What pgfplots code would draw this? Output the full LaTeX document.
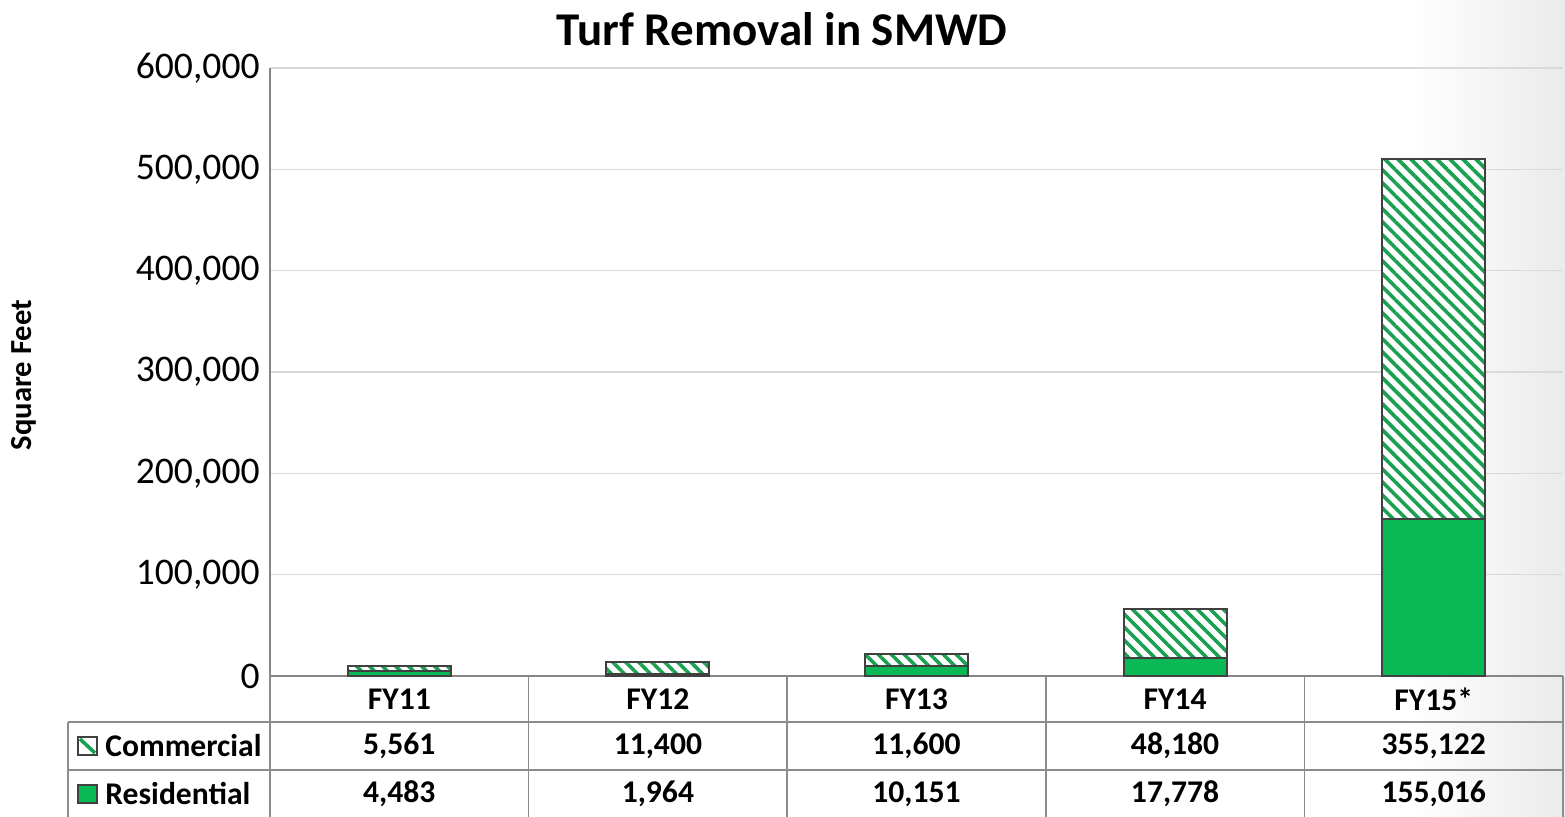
\documentclass[border=0pt]{standalone}
\usepackage{pgfplots}
\pgfplotsset{compat=1.18}
\usepackage{fontspec}
\setmainfont{Carlito}
\usetikzlibrary{patterns.meta}
\definecolor{grn}{RGB}{10,185,85}
\definecolor{hatch}{RGB}{25,160,80}
\definecolor{barline}{RGB}{64,64,64}
\definecolor{gridc}{RGB}{217,217,217}
\definecolor{axc}{RGB}{134,134,134}
\definecolor{tabc}{RGB}{140,140,140}
\begin{document}
\begin{tikzpicture}
\path[use as bounding box] (-135pt,-70.5pt) rectangle (647.5pt,338pt);
\shade[left color=white,right color=black!8] (570pt,-70.5pt) rectangle (647.5pt,338pt);
\begin{axis}[
  at={(0,0)}, anchor=south west,
  scale only axis, width=646.5pt, height=304pt,
  xmin=-0.5, xmax=4.5, ymin=0, ymax=600000,
  ybar stacked, bar width=51.5pt,
  xtick=\empty,
  ytick={0,100000,200000,300000,400000,500000,600000},
  scaled y ticks=false,
  yticklabel style={/pgf/number format/fixed, /pgf/number format/1000 sep={,}, /pgf/number format/assume math mode=true,
     font=\fontsize{18.8}{20}\selectfont, anchor=east, inner sep=0pt, xshift=-5pt},
  axis y line*=left, axis x line*=bottom,
  axis line style={axc, line width=0.75pt},
  ymajorgrids, grid style={gridc, line width=0.75pt},
  major tick length=0pt,
  clip=false,
]
\addplot[fill=grn, draw=barline, line width=1pt] coordinates {(0,4483) (1,1964) (2,10151) (3,17778) (4,155016)};
\addplot[draw=barline, line width=1pt, preaction={fill=white}, pattern={Lines[angle=-45,distance=4.6pt,line width=1.8pt]}, pattern color=hatch] coordinates {(0,5561) (1,11400) (2,11600) (3,48180) (4,355122)};
\end{axis}
% title and y label
\node[font=\fontsize{23.5}{26}\bfseries] at (256pt,323.5pt) {Turf Removal in SMWD};
\node[font=\fontsize{15.3}{17}\bfseries, rotate=90] at (-123pt,150.5pt) {Square Feet};
% data table lines
\begin{scope}[tabc, line width=0.75pt]
\draw (-101pt,-23pt) -- (646.5pt,-23pt);
\draw (-101pt,-47pt) -- (646.5pt,-47pt);
\draw (-101pt,-23pt) -- (-101pt,-70.5pt);
\foreach \xx in {0,129.3,258.6,387.9,517.2,646.5} {\draw (\xx pt,0pt) -- (\xx pt,-70.5pt);}
\end{scope}
\begin{scope}[font=\fontsize{15.8}{17}\bfseries]
\node at (64.65pt,-11.5pt) {FY11};
\node at (193.95pt,-11.5pt) {FY12};
\node at (323.25pt,-11.5pt) {FY13};
\node at (452.55pt,-11.5pt) {FY14};
\node at (581.85pt,-11.5pt) {FY15*};
\node at (64.65pt,-35pt) {5,561};
\node at (193.95pt,-35pt) {11,400};
\node at (323.25pt,-35pt) {11,600};
\node at (452.55pt,-35pt) {48,180};
\node at (581.85pt,-35pt) {355,122};
\node at (64.65pt,-59pt) {4,483};
\node at (193.95pt,-59pt) {1,964};
\node at (323.25pt,-59pt) {10,151};
\node at (452.55pt,-59pt) {17,778};
\node at (581.85pt,-59pt) {155,016};
\node[anchor=west, inner sep=0pt] at (-82.5pt,-35pt) {Commercial};
\node[anchor=west, inner sep=0pt] at (-82.5pt,-59pt) {Residential};
\end{scope}
% legend keys
\filldraw[draw=barline, line width=0.6pt, fill=white] (-96pt,-39.5pt) rectangle (-86.5pt,-30.5pt);
\draw[hatch, line width=1.8pt] (-95pt,-31.5pt) -- (-87.5pt,-38.5pt);
\filldraw[draw=barline, line width=0.6pt, fill=grn] (-96pt,-63.5pt) rectangle (-86.5pt,-54.5pt);
\end{tikzpicture}
\end{document}
